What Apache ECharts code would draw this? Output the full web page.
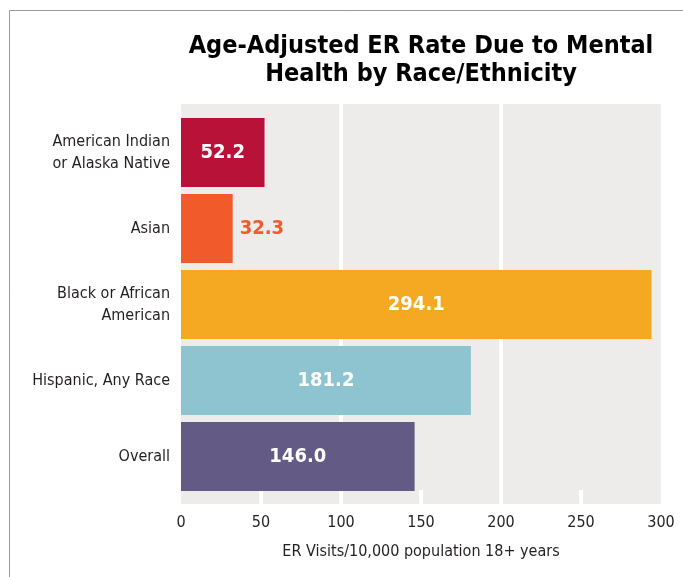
<!DOCTYPE html>
<html>
<head>
<meta charset="utf-8">
<script src="https://cdn.jsdelivr.net/npm/echarts@6/dist/echarts.min.js"></script>
<style>
  html, body { margin: 0; padding: 0; background: #fff; }
  #chart { width: 683px; height: 577px; }
</style>
</head>
<body>
<div id="chart"></div>
<script>
// ER visits per 10,000 adults (18+), age-adjusted, by race/ethnicity
const categories = [
  'American Indian\nor Alaska Native',
  'Asian',
  'Black or African\nAmerican',
  'Hispanic, Any Race',
  'Overall'
];
const rates = [52.2, 32.3, 294.1, 181.2, 146.0];
const xTicks = [0, 50, 100, 150, 200, 250, 300];

const barColors = ['#b81239', '#f15a2b', '#f5a822', '#8ec3d0', '#635a85'];
const FONT = '"Liberation Sans Narrow", "DejaVu Sans Condensed", "Roboto", sans-serif';
const TEXT = '#231f20';

const chart = echarts.init(document.getElementById('chart'), null, { renderer: 'canvas' });

const option = {
  backgroundColor: '#ffffff',
  animation: false,
  title: {
    text: 'Age-Adjusted ER Rate Due to Mental\nHealth by Race/Ethnicity',
    left: 416,
    top: 27,
    textAlign: 'center',
    textStyle: {
      fontFamily: FONT,
      fontWeight: 'bold',
      fontSize: 25,
      lineHeight: 28,
      color: '#000'
    }
  },
  graphic: [{
    type: 'rect',
    shape: { x: 9.5, y: 10.5, width: 720, height: 620 },
    style: { fill: 'none', stroke: '#9a9a9a', lineWidth: 1 },
    silent: true
  }],
  grid: [
    // bars
    { left: 181, right: 22, top: 114.5, bottom: 82.5 },
    // shaded panel with gridlines and scale
    { left: 181, right: 22, top: 104, bottom: 73, show: true,
      backgroundColor: '#edeceb', borderWidth: 0, z: 0 }
  ],
  xAxis: [
    { gridIndex: 0, type: 'value', min: xTicks[0], max: xTicks[xTicks.length - 1], show: false },
    { gridIndex: 1, type: 'value', position: 'bottom',
      min: xTicks[0], max: xTicks[xTicks.length - 1], interval: 100,
      axisLine: { show: false }, axisTick: { show: false }, axisLabel: { show: false },
      splitLine: { show: true, showMinLine: false, showMaxLine: false,
        lineStyle: { color: '#ffffff', width: 4 } } },
    { gridIndex: 1, type: 'value', position: 'bottom',
      min: xTicks[0], max: xTicks[xTicks.length - 1], interval: 50,
      axisLine: { show: false },
      axisTick: { show: true, inside: true, length: 14, customValues: [50, 150, 250],
        lineStyle: { color: '#ffffff', width: 4 } },
      splitLine: { show: false },
      axisLabel: { show: true, margin: 11, color: TEXT, fontFamily: FONT, fontSize: 16,
        customValues: xTicks },
      name: 'ER Visits/10,000 population 18+ years',
      nameLocation: 'middle', nameGap: 40,
      nameTextStyle: { color: TEXT, fontFamily: FONT, fontSize: 16 } }
  ],
  yAxis: [
    { gridIndex: 0, type: 'category', data: categories, inverse: true,
      axisLine: { show: false }, axisTick: { show: false }, splitLine: { show: false },
      axisLabel: { margin: 11, color: TEXT, fontFamily: FONT, fontSize: 16, lineHeight: 22, align: 'right' } },
    { gridIndex: 1, type: 'value', min: 0, max: 1, show: false }
  ],
  series: [{
    type: 'bar',
    xAxisIndex: 0,
    yAxisIndex: 0,
    barWidth: 69,
    z: 3,
    data: rates.map((v, i) => {
      const outside = i === 1;
      return {
        value: v,
        itemStyle: { color: barColors[i] },
        label: {
          show: true,
          position: outside ? 'right' : 'inside',
          distance: 7,
          formatter: p => p.value.toFixed(1),
          color: outside ? barColors[i] : '#ffffff',
          fontFamily: FONT,
          fontWeight: 'bold',
          fontSize: 20
        }
      };
    })
  }]
};

chart.setOption(option);
</script>
</body>
</html>
